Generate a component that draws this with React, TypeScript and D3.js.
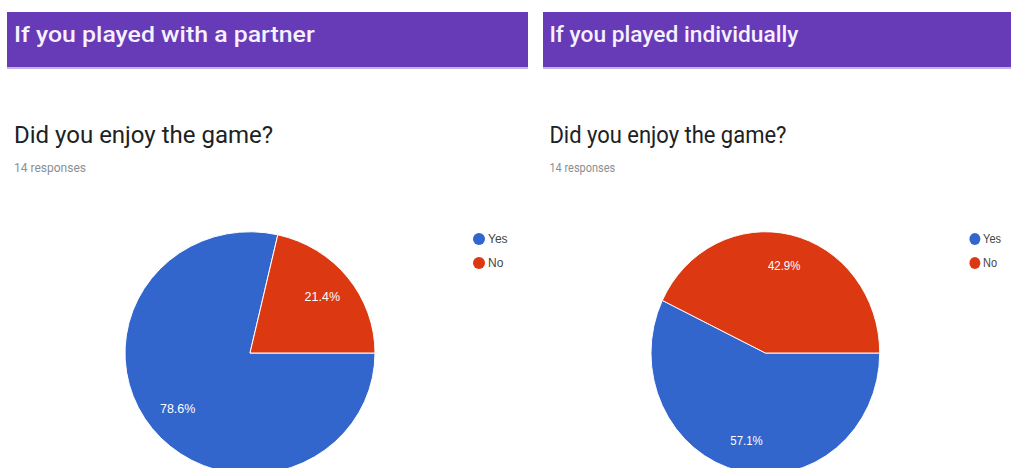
import React from "react";
import * as d3 from "d3";

const categories = ["Yes", "No"];
const partnerCounts = [11, 3];
const individualCounts = [8, 6];
const headerTitles = ["If you played with a partner", "If you played individually"];
const questionTitle = "Did you enjoy the game?";
const responseCounts = [14, 14];
const sliceColors = ["#3366cc", "#dc3912"];

const W = 1011;
const H = 468;

type PanelProps = { title: string; counts: number[]; responses: number; tx: number; sx: number; width: number };

function Panel({ title, counts, responses, tx, sx, width }: PanelProps) {
  const R = 125;
  const cx = 243;
  const cy = 353;
  const pie = d3
    .pie<number>()
    .sort(null)
    .startAngle(Math.PI / 2)
    .endAngle(Math.PI / 2 + 2 * Math.PI);
  const arcs = pie(counts);
  const arc = d3.arc<d3.PieArcDatum<number>>().innerRadius(0).outerRadius(R);
  const labelArc = d3.arc<d3.PieArcDatum<number>>().innerRadius(0).outerRadius(R * 1.48);
  const total = d3.sum(counts);
  const fmt = d3.format(".1%");
  const color = d3.scaleOrdinal<string, string>().domain(categories).range(sliceColors);
  const legendY = d3.scalePoint<string>().domain(categories).range([239, 263]);
  return (
    <g transform={`translate(${tx},0) scale(${sx},1)`}>
      <rect x={0} y={12} width={width} height={55} fill="#673ab7" />
      <rect x={0} y={67} width={width} height={2} fill="#c5b3e6" />
      <g transform="translate(7,0) scale(1.13,1)">
        <text x={0} y={42} fontFamily="Roboto" fontWeight={500} fontSize={22} fill="#f6f0ff">
          {title}
        </text>
      </g>
      <text x={7} y={143} fontFamily="Roboto" fontSize={24} fill="#202124">
        {questionTitle}
      </text>
      <text x={7} y={172} fontFamily="Roboto" fontSize={12} fill="#8a8f94">
        {`${responses} responses`}
      </text>
      <g transform={`translate(${cx},${cy}) scale(1,0.97)`}>
        {arcs.map((a, i) => (
          <path key={i} d={arc(a) || ""} fill={color(categories[i])} stroke="#ffffff" strokeWidth={1} />
        ))}
        {arcs.map((a, i) => {
          const [lx, ly] = labelArc.centroid(a);
          return (
            <text
              key={"l" + i}
              x={lx}
              y={ly}
              textAnchor="middle"
              dominantBaseline="central"
              fontFamily="Arial, Liberation Sans"
              fontSize={12.5}
              fill="#ffffff"
            >
              {fmt(a.data / total)}
            </text>
          );
        })}
      </g>
      {categories.map((c) => (
        <g key={c}>
          <circle cx={472} cy={legendY(c)} r={6} fill={color(c)} />
          <text
            x={481}
            y={legendY(c)}
            dominantBaseline="central"
            fontFamily="Arial, Liberation Sans"
            fontSize={12}
            fill="#444444"
          >
            {c}
          </text>
        </g>
      ))}
    </g>
  );
}

export default function App() {
  return (
    <svg
      width={W}
      height={H}
      style={{ position: "absolute", left: 0, top: 0, background: "#ffffff" }}
    >
      <Panel title={headerTitles[0]} counts={partnerCounts} responses={responseCounts[0]} tx={7} sx={1} width={521} />
      <Panel title={headerTitles[1]} counts={individualCounts} responses={responseCounts[1]} tx={543} sx={0.915} width={520} />
    </svg>
  );
}
